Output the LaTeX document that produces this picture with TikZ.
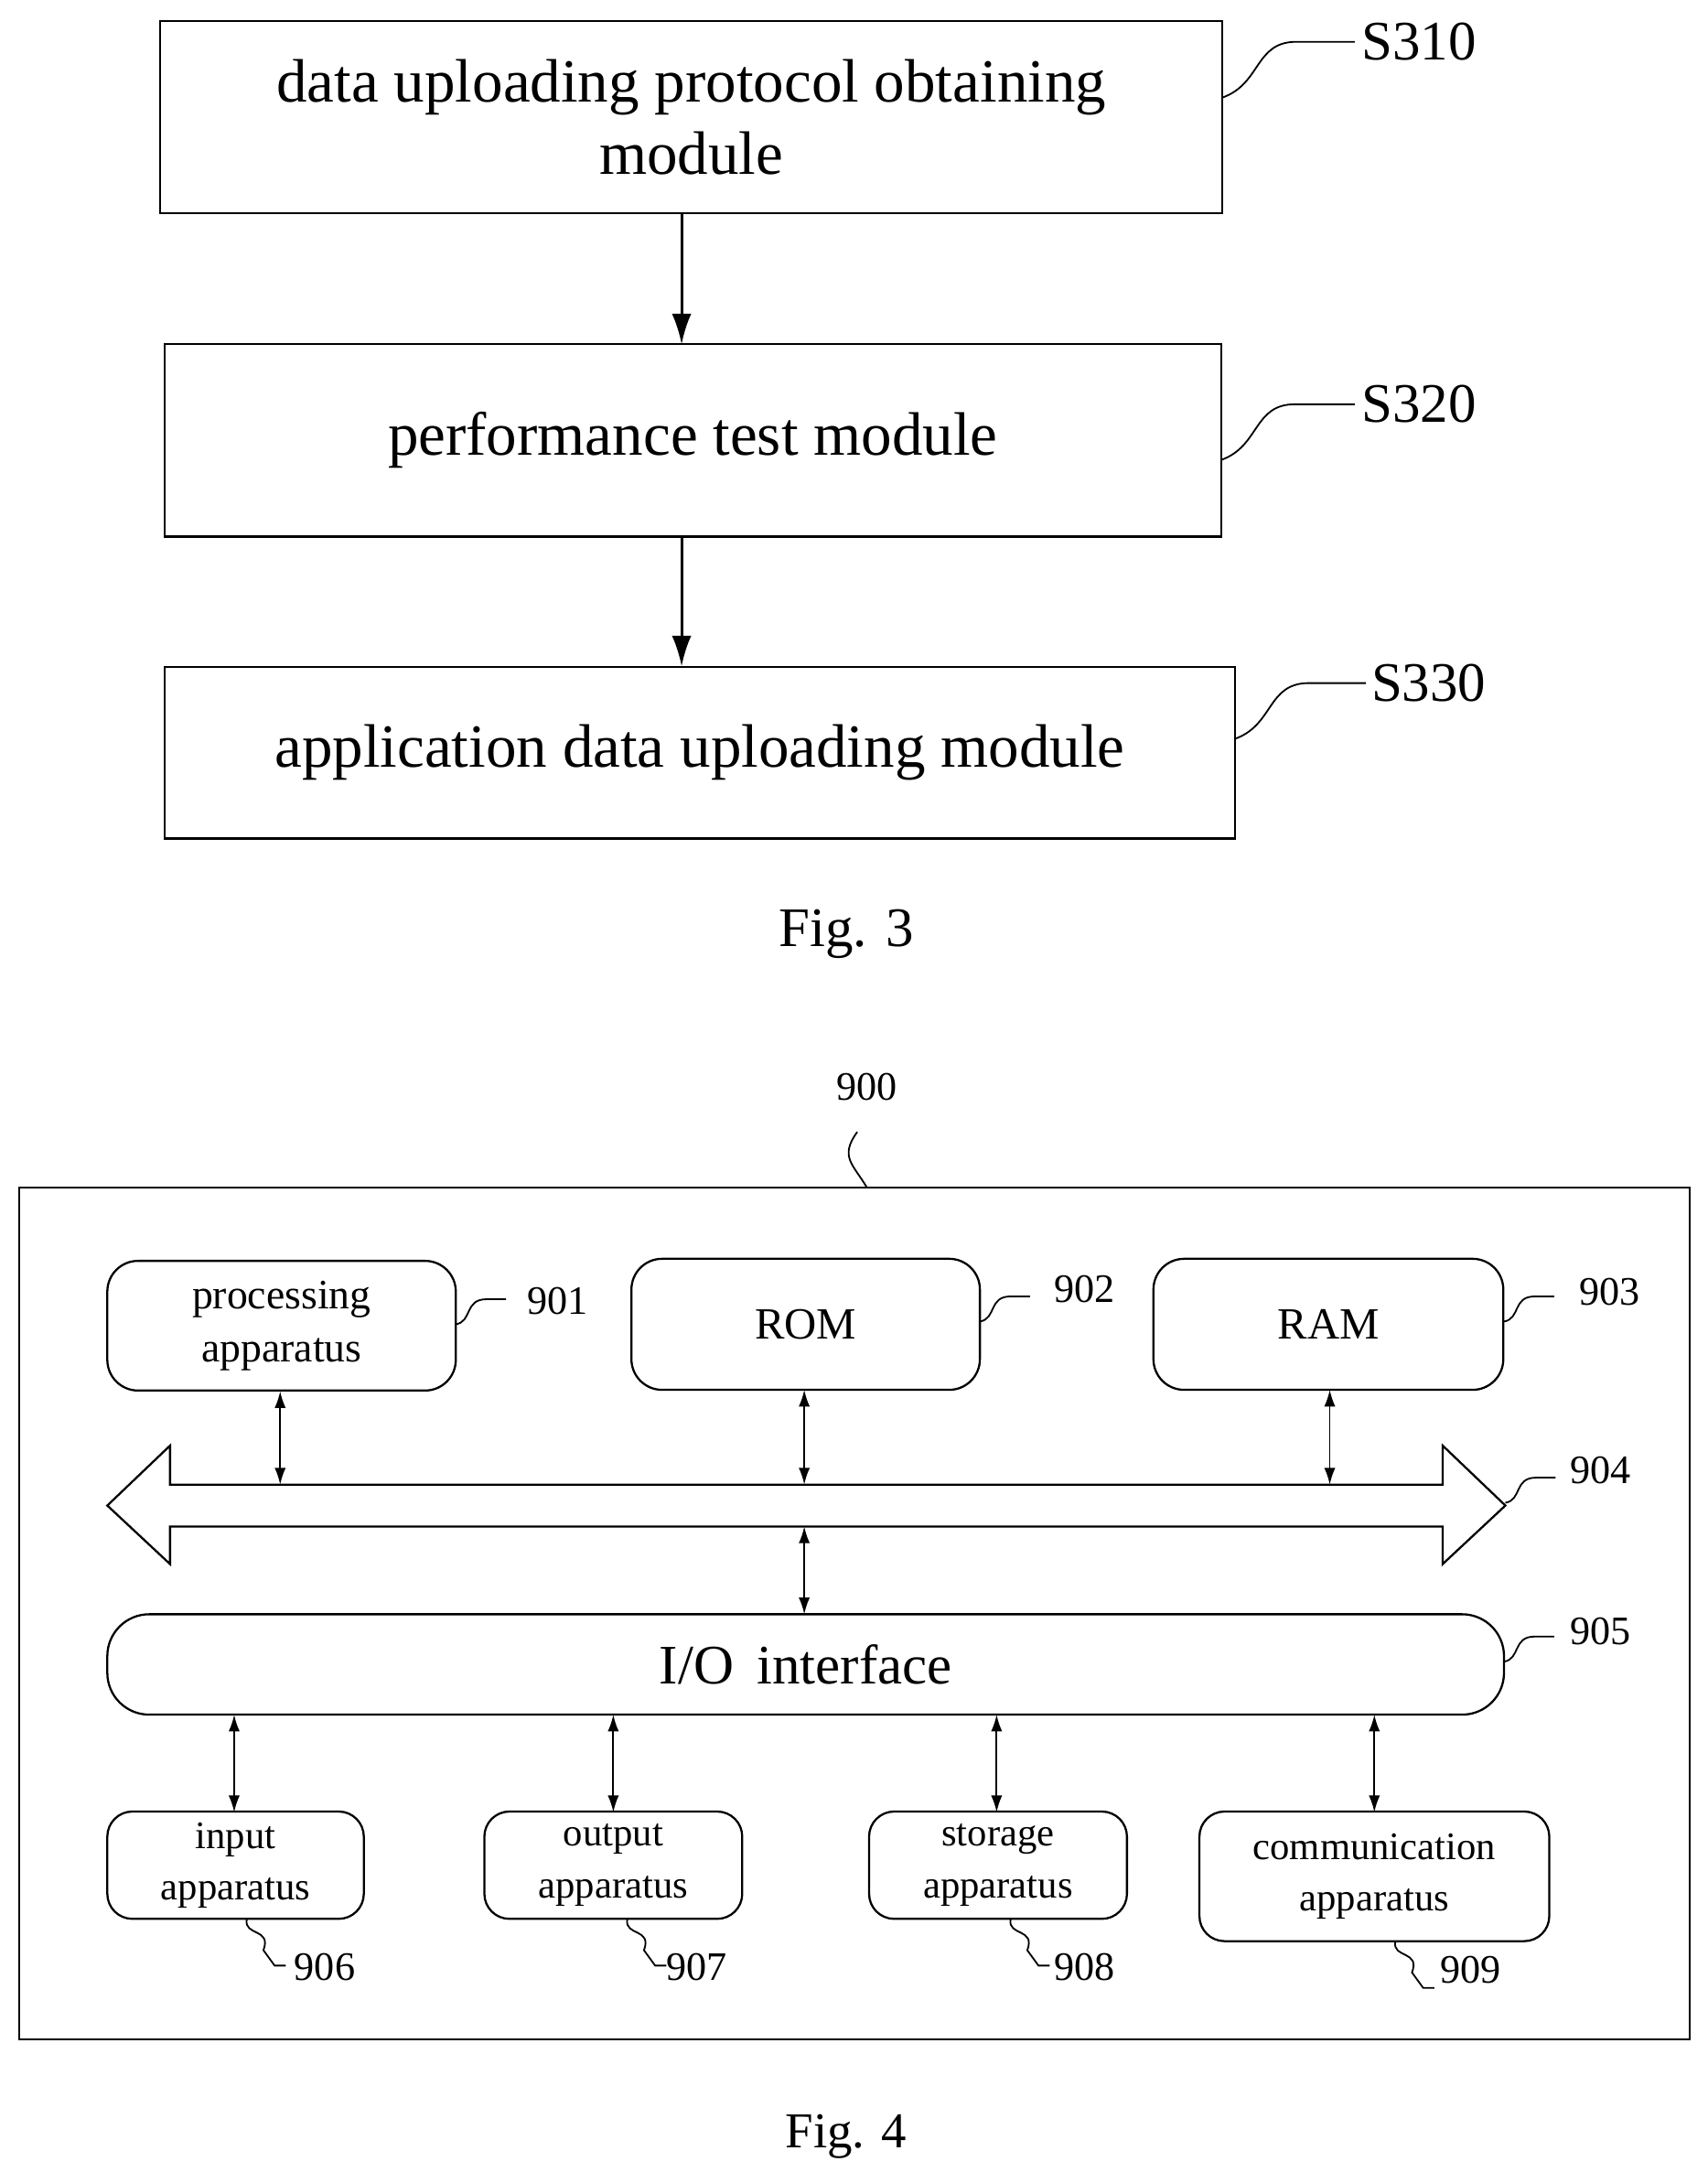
\documentclass[tikz,border=0pt]{standalone}
\usepackage{fontspec}
\setmainfont{Liberation Serif}
\usetikzlibrary{arrows.meta}
\begin{document}
\begin{tikzpicture}[x=1pt,y=-1pt,
  box/.style={draw,line width=1.5pt,inner sep=0pt,font=\fontsize{44}{52}\selectfont,align=center},
  rbox/.style={draw,line width=1.5pt,rounded corners=22pt,inner sep=0pt,font=\fontsize{30}{38}\selectfont,align=center},
  lab/.style={font=\fontsize{40}{44}\selectfont},
  slab/.style={font=\fontsize{29}{32}\selectfont},
  sq/.style={line width=1.2pt},
  arr/.style={-{Latex[length=22pt,width=14pt]},line width=2pt},
  darr/.style={{Latex[length=12pt,width=8pt]}-{Latex[length=12pt,width=8pt]},line width=1.2pt}]
\useasboundingbox (0,0) rectangle (1225,1566);
% Fig 3
\node[box,minimum width=762pt,minimum height=138pt] (a) at (496,84) {data uploading protocol obtaining\\module};
\node[box,minimum width=758pt,minimum height=138pt] (b) at (497,316) {performance test module};
\node[box,minimum width=768pt,minimum height=123pt] (c) at (502,540) {application data uploading module};
\draw[arr] (489,153) -- (489,247);
\draw[arr] (489,385) -- (489,478);
\node[lab] (s1) at (1018,30) {S310};
\node[lab] (s2) at (1018,290) {S320};
\node[lab] (s3) at (1025,490) {S330};
\draw[sq] (877,70) .. controls (905,60) and (900,30) .. (930,30) -- (972,30);
\draw[sq] (876,330) .. controls (904,320) and (899,290) .. (929,290) -- (972,290);
\draw[sq] (886,530) .. controls (914,520) and (909,490) .. (939,490) -- (980,490);
\node[lab] (f3) at (607,670) {Fig. 3};
% Fig 4
\node[slab] (n900) at (622,780) {900};
\draw[line width=1.5pt] (14,852) rectangle (1212,1463);
\draw[sq] (622,852) .. controls (612,835) and (602,830) .. (615,812);
\node[rbox,minimum width=250pt,minimum height=93pt] (p) at (202,951) {processing\\apparatus};
\node[rbox,minimum width=250pt,minimum height=94pt,font=\fontsize{32}{36}\selectfont] (rom) at (578,950) {ROM};
\node[rbox,minimum width=251pt,minimum height=94pt,font=\fontsize{32}{36}\selectfont] (ram) at (953,950) {RAM};
\draw[line width=1.5pt] (77,1080) -- (122,1037) -- (122,1065) -- (1035,1065) -- (1035,1037) -- (1080,1080) -- (1035,1122) -- (1035,1095) -- (122,1095) -- (122,1122) -- cycle;
\node[rbox,rounded corners=30pt,minimum width=1002pt,minimum height=72pt,font=\fontsize{40}{44}\selectfont] (io) at (578,1194) {I/O\, interface};
\draw[darr] (201,998) -- (201,1065);
\draw[darr] (577,997) -- (577,1065);
\draw[darr] (954,997) -- (954,1065);
\draw[darr] (577,1095) -- (577,1158);
\node[rbox,rounded corners=18pt,minimum width=184pt,minimum height=77pt,font=\fontsize{28}{37}\selectfont] (in) at (169,1338) {input\\apparatus};
\node[rbox,rounded corners=18pt,minimum width=185pt,minimum height=77pt,font=\fontsize{28}{37}\selectfont] (out) at (440,1338) {output\\apparatus};
\node[rbox,rounded corners=18pt,minimum width=185pt,minimum height=77pt,font=\fontsize{28}{37}\selectfont] (st) at (716,1338) {storage\\apparatus};
\node[rbox,rounded corners=18pt,minimum width=251pt,minimum height=93pt,font=\fontsize{28}{37}\selectfont] (com) at (986,1346) {communication\\apparatus};
\draw[darr] (168,1230) -- (168,1300);
\draw[darr] (440,1230) -- (440,1300);
\draw[darr] (715,1230) -- (715,1300);
\draw[darr] (986,1230) -- (986,1300);
\node[slab] (l901) at (400,933) {901};
\node[slab] (l902) at (778,925) {902};
\node[slab] (l903) at (1155,927) {903};
\node[slab] (l904) at (1148,1055) {904};
\node[slab] (l905) at (1148,1170) {905};
\node[slab] (l906) at (233,1411) {906};
\node[slab] (l907) at (500,1411) {907};
\node[slab] (l908) at (778,1411) {908};
\node[slab] (l909) at (1055,1413) {909};
\foreach \x/\y in {327/950,703/948,1079/948,1080/1078,1079/1192}{
  \draw[sq] (\x,\y) .. controls (\x+12,\y-2) and (\x+6,\y-18) .. (\x+22,\y-18) -- (\x+36,\y-18) ;}
\foreach \x/\y in {177/1377,450/1377,725/1377,1001/1393}{
  \draw[sq] (\x,\y) .. controls (\x-2,\y+12) and (\x+18,\y+6) .. (\x+12,\y+22) -- (\x+20,\y+33) -- (\x+28,\y+33);}
\node[lab,font=\fontsize{36}{40}\selectfont] (f4) at (607,1533) {Fig. 4};
\end{tikzpicture}
\end{document}
